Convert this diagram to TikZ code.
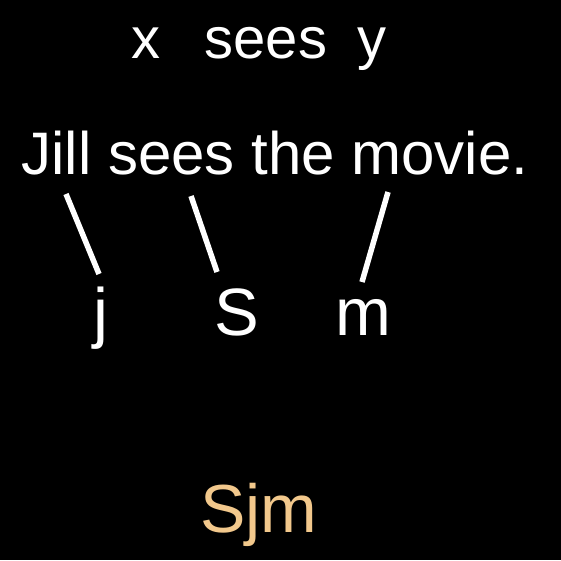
\documentclass[tikz,border=0pt]{standalone}
\usepackage{fontspec}
\setmainfont{Liberation Sans}
\definecolor{sand}{RGB}{242,200,140}

\begin{document}
\begin{tikzpicture}[x=1pt,y=-1pt,
  word/.style={anchor=base,inner sep=0pt,text=white,font=\fontsize{58}{58}\selectfont},
  letter/.style={anchor=base,inner sep=0pt,text=white,font=\fontsize{67}{67}\selectfont},
  link/.style={draw=white,line width=5.5pt}]
\fill[black] (0,0) rectangle (561,560);
\useasboundingbox (0,0) rectangle (561,560);

\node[word] (x) at (146,58) {x};
\node[word] (sees) at (266,58) {sees};
\node[word] (y) at (372,58) {y};

\node[word,font=\fontsize{60}{60}\selectfont] (sentence) at (275,174) {Jill sees the movie.};

\node[letter] (j) at (101,335) {j};
\node[letter] (S) at (237,335) {S};
\node[letter] (m) at (363,335) {m};

\coordinate (jtop) at (66,194);
\coordinate (jbot) at (99,274);
\coordinate (stop) at (191,196);
\coordinate (sbot) at (217,272);
\coordinate (mtop) at (388,192);
\coordinate (mbot) at (362,282);
\draw[link] (jtop) -- (jbot);
\draw[link] (stop) -- (sbot);
\draw[link] (mtop) -- (mbot);

\node[letter,text=sand,font=\fontsize{68}{68}\selectfont] (result) at (259,532) {Sjm};
\end{tikzpicture}
\end{document}
